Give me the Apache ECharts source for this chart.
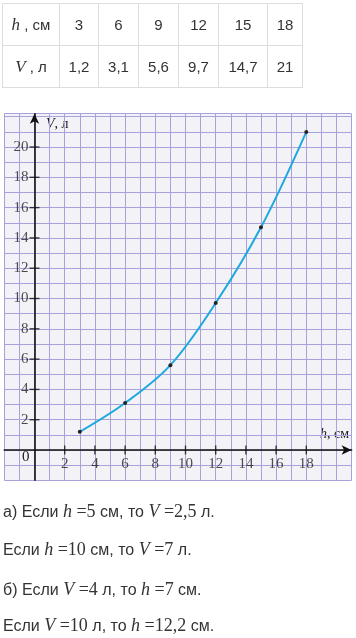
<!DOCTYPE html>
<html><head><meta charset="utf-8">
<script src="https://cdn.jsdelivr.net/npm/echarts@6/dist/echarts.min.js"></script>
<style>
html,body{margin:0;padding:0;background:#fff;width:356px;height:638px;overflow:hidden;}
#chart{position:absolute;left:0;top:0;width:356px;height:638px;}
table{position:absolute;left:2px;top:3px;border-collapse:collapse;table-layout:fixed;font-family:"Liberation Sans",Arial,sans-serif;font-size:15px;color:#333;}
td{border:1px solid #ddd;text-align:center;padding:0;height:41px;}
.m{font-family:"Liberation Serif","DejaVu Serif",serif;font-style:italic;font-size:17px;}
.mn{font-family:"Liberation Serif","DejaVu Serif",serif;font-size:17px;}
.ln{position:absolute;left:3px;font-family:"Liberation Sans",Arial,sans-serif;font-size:16px;color:#333;line-height:20px;white-space:nowrap;}
.ln .m,.ln .mn{font-size:18px;}
</style></head>
<body>
<div id="chart"></div>
<table id="tbl"></table>
<div class="ln" style="top:501px">а) Если <span class="m">h</span><span class="mn"> =5</span> см, то <span class="m">V</span><span class="mn"> =2,5</span> л.</div>
<div class="ln" style="top:539px">Если <span class="m">h</span><span class="mn"> =10</span> см, то <span class="m">V</span><span class="mn"> =7</span> л.</div>
<div class="ln" style="top:579px">б) Если <span class="m">V</span><span class="mn"> =4</span> л, то <span class="m">h</span><span class="mn"> =7</span> см.</div>
<div class="ln" style="top:615px">Если <span class="m">V</span><span class="mn"> =10</span> л, то <span class="m">h</span><span class="mn"> =12,2</span> см.</div>
<script>
// data
const heights = [3, 6, 9, 12, 15, 18];
const volumes = [1.2, 3.1, 5.6, 9.7, 14.7, 21];
const volumeLabels = ['1,2', '3,1', '5,6', '9,7', '14,7', '21'];
const xTickValues = [2, 4, 6, 8, 10, 12, 14, 16, 18];
const yTickValues = [2, 4, 6, 8, 10, 12, 14, 16, 18, 20];

// table
const colW = [56, 38, 39, 39, 39, 48, 34];
const tbl = document.getElementById('tbl');
let r1 = '<tr><td style="width:' + colW[0] + 'px"><span class="m">h</span> , см</td>';
heights.forEach((h, i) => { r1 += '<td style="width:' + colW[i + 1] + 'px">' + h + '</td>'; });
r1 += '</tr>';
let r2 = '<tr><td><span class="m">V</span> , л</td>';
volumeLabels.forEach(v => { r2 += '<td>' + v + '</td>'; });
r2 += '</tr>';
tbl.innerHTML = r1 + r2;

const chart = echarts.init(document.getElementById('chart'), null, {renderer: 'canvas'});
const gridLine = {show: true, lineStyle: {color: '#a7a2da', width: 1}};
const serif = '"Liberation Serif","DejaVu Serif",serif';
chart.setOption({
  animation: false,
  grid: {left: 4.3, right: 4.4, top: 113.7, bottom: 157.7, show: true, backgroundColor: '#f3f3f7', borderWidth: 0,
    containLabel: false, outerBoundsMode: 'none'},
  xAxis: {
    type: 'value', min: -2, max: 21, interval: 1,
    splitLine: gridLine,
    axisLine: {onZero: true, lineStyle: {color: '#111', width: 1.6}, symbol: ['none', 'arrow'], symbolSize: [7, 10]},
    axisTick: {show: false},
    axisLabel: {show: false}
  },
  yAxis: {
    type: 'value', min: -2, max: 22.2, interval: 1,
    splitLine: gridLine,
    axisLine: {onZero: true, lineStyle: {color: '#111', width: 1.6}, symbol: ['none', 'arrow'], symbolSize: [7, 10]},
    axisTick: {show: false},
    axisLabel: {show: false}
  },
  graphic: [
    {type: 'text', left: 22, top: 450, style: {text: '0', font: '15px ' + serif, fill: '#222'}},
    {type: 'text', left: 46, top: 117, style: {text: '{i|V}, л', rich: {i: {fontStyle: 'italic', fontFamily: serif, fontSize: 14, fill: '#222'}}, font: '14px ' + serif, fill: '#222'}},
    {type: 'text', left: 320, top: 427, style: {text: '{i|h}, см', rich: {i: {fontStyle: 'italic', fontFamily: serif, fontSize: 14, fill: '#222'}}, font: '14px ' + serif, fill: '#222'}}
  ],
  series: [
    {type: 'scatter', data: xTickValues.map(v => [v, 0]), symbol: 'rect', symbolSize: [1.4, 9], itemStyle: {color: '#111'}, silent: true, z: 3,
      label: {show: true, position: 'bottom', distance: 2, formatter: p => String(p.value[0]), fontFamily: serif, fontSize: 15, color: '#222'}},
    {type: 'scatter', data: yTickValues.map(v => [0, v]), symbol: 'rect', symbolSize: [10, 1.4], itemStyle: {color: '#111'}, silent: true, z: 3,
      label: {show: true, position: 'left', distance: 1, formatter: p => String(p.value[1]), fontFamily: serif, fontSize: 15, color: '#222'}},
    {type: 'line', data: heights.map((h, i) => [h, volumes[i]]), smooth: 0.35,
      lineStyle: {color: '#1ea8e0', width: 2}, itemStyle: {color: '#222'},
      symbol: 'circle', symbolSize: 4, showSymbol: true, z: 4}
  ]
});
</script>
</body></html>
